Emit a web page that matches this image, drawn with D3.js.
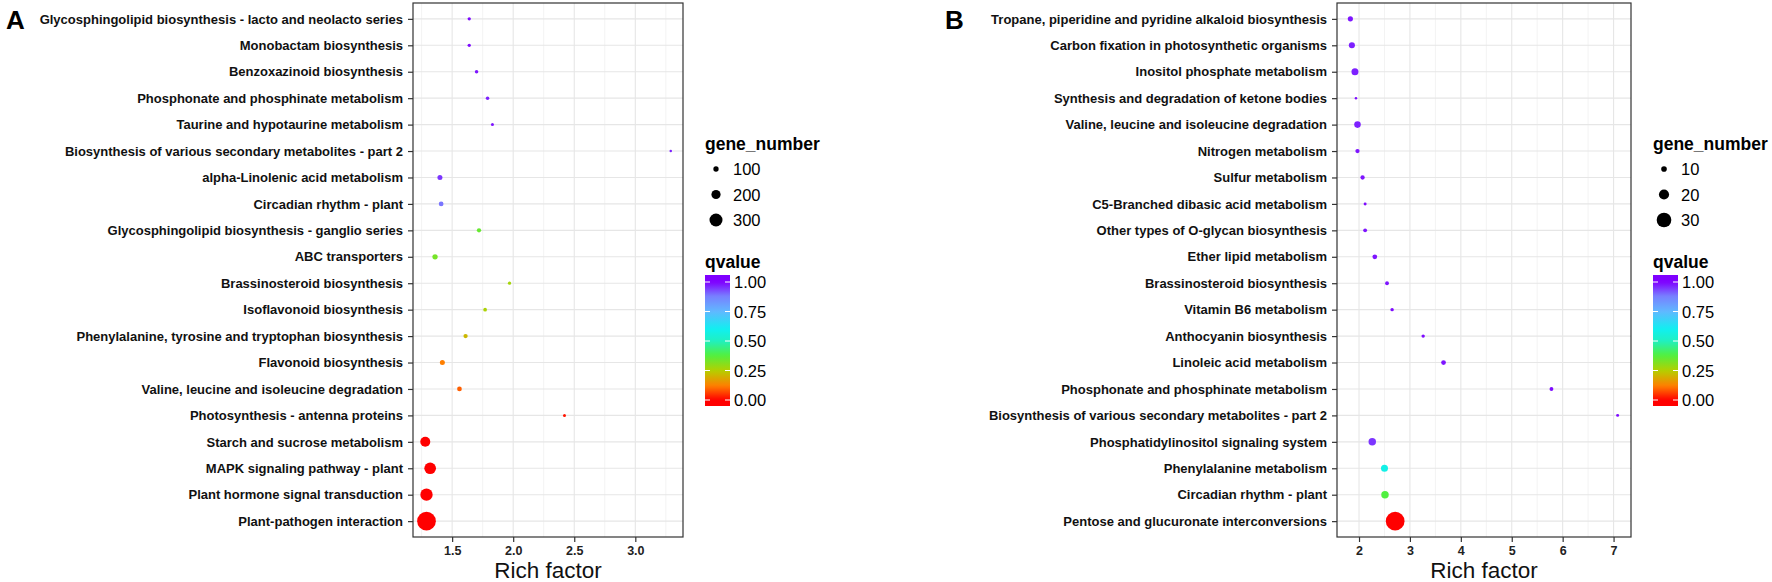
<!DOCTYPE html>
<html><head><meta charset="utf-8">
<script src="https://cdn.jsdelivr.net/npm/d3@7"></script>
<style>body{margin:0;background:#fff}svg{display:block;font-family:"Liberation Sans",Arial,sans-serif}</style>
</head><body><svg id="c" width="1772" height="582"></svg>
<script>
// ---------- Data: panel A ----------
const catsA = [
  "Glycosphingolipid biosynthesis - lacto and neolacto series","Monobactam biosynthesis","Benzoxazinoid biosynthesis",
  "Phosphonate and phosphinate metabolism","Taurine and hypotaurine metabolism","Biosynthesis of various secondary metabolites - part 2",
  "alpha-Linolenic acid metabolism","Circadian rhythm - plant","Glycosphingolipid biosynthesis - ganglio series","ABC transporters",
  "Brassinosteroid biosynthesis","Isoflavonoid biosynthesis","Phenylalanine, tyrosine and tryptophan biosynthesis","Flavonoid biosynthesis",
  "Valine, leucine and isoleucine degradation","Photosynthesis - antenna proteins","Starch and sucrose metabolism",
  "MAPK signaling pathway - plant","Plant hormone signal transduction","Plant-pathogen interaction"];
const richA = [1.64,1.64,1.70,1.79,1.83,3.29,1.40,1.41,1.72,1.36,1.97,1.77,1.61,1.42,1.56,2.42,1.28,1.32,1.29,1.29];
const geneA = [48,48,53,53,40,27,92,85,74,100,48,58,74,92,85,40,222,266,282,448];
const qA    = [0.99,0.99,0.98,0.97,0.98,0.97,0.95,0.89,0.35,0.33,0.27,0.26,0.21,0.12,0.09,0.02,0.00,0.00,0.00,0.00];
const sizeBreaksA = [100,200,300];

// ---------- Data: panel B ----------
const catsB = [
  "Tropane, piperidine and pyridine alkaloid biosynthesis","Carbon fixation in photosynthetic organisms","Inositol phosphate metabolism",
  "Synthesis and degradation of ketone bodies","Valine, leucine and isoleucine degradation","Nitrogen metabolism","Sulfur metabolism",
  "C5-Branched dibasic acid metabolism","Other types of O-glycan biosynthesis","Ether lipid metabolism","Brassinosteroid biosynthesis",
  "Vitamin B6 metabolism","Anthocyanin biosynthesis","Linoleic acid metabolism","Phosphonate and phosphinate metabolism",
  "Biosynthesis of various secondary metabolites - part 2","Phosphatidylinositol signaling system","Phenylalanine metabolism",
  "Circadian rhythm - plant","Pentose and glucuronate interconversions"];
const richB = [1.83,1.86,1.92,1.94,1.97,1.97,2.07,2.12,2.12,2.31,2.55,2.65,3.26,3.66,5.78,7.08,2.26,2.50,2.51,2.71];
const geneB = [9,11,13,3,12,7,7,4,6,8,6,5,5,8,6,4,14,13,14,39];
const qB    = [0.98,0.97,0.97,0.99,0.97,0.98,0.98,0.99,0.98,0.98,0.98,0.99,0.99,0.98,0.99,0.99,0.95,0.58,0.38,0.00];
const sizeBreaksB = [10,20,30];

const qTicks = [0,0.25,0.5,0.75,1];
const qStops = [0,0.12,0.25,0.38,0.5,0.6,0.75,0.88,1];
const qColours = ["#FF0000","#FF7F00","#B4D000","#50F040","#20F0C0","#10F0F0","#60B8FF","#7880FF","#7F00FF"];

// ---------- Drawing ----------
const svg = d3.select("#c");
const defs = svg.append("defs");
const colour = d3.scaleLinear().domain(qStops).range(qColours).interpolate(d3.interpolateRgb).clamp(true);
const FONT = "Liberation Sans, Arial, sans-serif";

function panel(cfg){
  const {cats, rich, gene, q, breaks, x0, x1, y0, y1, xTicks, tickFmt, letter, letterX} = cfg;
  const g = svg.append("g");
  const ext = d3.extent(rich), pad = (ext[1]-ext[0])*0.05;
  const x = d3.scaleLinear().domain([ext[0]-pad, ext[1]+pad]).range([x0, x1]);
  const y = d3.scalePoint().domain(cats).range([y0, y1]).padding(0.6);
  const r = d3.scaleLinear().domain(d3.extent(gene)).range([1.25, 9.35]);

  // grid
  const step = xTicks[1]-xTicks[0];
  const minor = d3.range(xTicks.length+1).map(i=>xTicks[0]-step/2+i*step).filter(v=>x(v)>x0&&x(v)<x1);
  g.selectAll(".mg").data(minor).join("line")
    .attr("x1",d=>x(d)).attr("x2",d=>x(d)).attr("y1",y0).attr("y2",y1).attr("stroke","#f3f3f3").attr("stroke-width",1);
  g.selectAll(".vg").data(xTicks).join("line")
    .attr("x1",d=>x(d)).attr("x2",d=>x(d)).attr("y1",y0).attr("y2",y1).attr("stroke","#e6e6e6").attr("stroke-width",1.1);
  g.selectAll(".hg").data(cats).join("line")
    .attr("x1",x0).attr("x2",x1).attr("y1",d=>y(d)).attr("y2",d=>y(d)).attr("stroke","#e6e6e6").attr("stroke-width",1.1);

  // points
  const data = cats.map((c,i)=>({c, x:rich[i], g:gene[i], q:q[i]}));
  g.selectAll(".pt").data(data).join("circle")
    .attr("cx",d=>x(d.x)).attr("cy",d=>y(d.c)).attr("r",d=>r(d.g)).attr("fill",d=>colour(d.q));

  // border
  g.append("rect").attr("x",x0).attr("y",y0).attr("width",x1-x0).attr("height",y1-y0)
    .attr("fill","none").attr("stroke","#333").attr("stroke-width",1.2);

  // axes
  const ax = g.append("g").attr("transform",`translate(0,${y1})`)
    .call(d3.axisBottom(x).tickValues(xTicks).tickFormat(tickFmt).tickSizeOuter(0).tickSize(5).tickPadding(4));
  ax.select(".domain").remove();
  ax.selectAll("line").attr("stroke","#333").attr("stroke-width",1.2);
  ax.selectAll("text").attr("font-size",12.5).attr("font-weight","bold").attr("fill","#222").attr("font-family",FONT);
  const ay = g.append("g").attr("transform",`translate(${x0},0)`)
    .call(d3.axisLeft(y).tickSizeOuter(0).tickSize(5).tickPadding(5));
  ay.select(".domain").remove();
  ay.selectAll("line").attr("stroke","#333").attr("stroke-width",1.2);
  ay.selectAll("text").attr("font-size",13).attr("font-weight","bold").attr("fill","#111").attr("font-family",FONT);

  g.append("text").attr("x",(x0+x1)/2).attr("y",578).attr("text-anchor","middle")
    .attr("font-size",22.5).attr("fill","#111").text("Rich factor");
  g.append("text").attr("x",letterX).attr("y",29).attr("font-size",26).attr("font-weight","bold").text(letter);

  // legend: size
  const lx = x1 + 22;
  g.append("text").attr("x",lx).attr("y",150).attr("font-size",17.5).attr("font-weight","bold").text("gene_number");
  breaks.forEach((b,i)=>{
    const cy = 169 + i*25.5;
    g.append("circle").attr("cx",lx+11).attr("cy",cy).attr("r",r(b)).attr("fill","#000");
    g.append("text").attr("x",lx+28).attr("y",cy+6).attr("font-size",16.5).text(b);
  });
  // legend: colour
  g.append("text").attr("x",lx).attr("y",268).attr("font-size",17.5).attr("font-weight","bold").text("qvalue");
  const barTop = 275, barBot = 406, barW = 25;
  const qy = d3.scaleLinear().domain([0,1]).range([400, 282]);
  const gid = "grad"+letter;
  const grad = defs.append("linearGradient").attr("id",gid).attr("gradientUnits","userSpaceOnUse")
    .attr("x1",0).attr("x2",0).attr("y1",barBot).attr("y2",barTop);
  d3.range(0,1.0001,0.02).forEach(t=>{
    const yy = barBot + t*(barTop-barBot);
    grad.append("stop").attr("offset",t).attr("stop-color",colour(qy.invert(yy)));
  });
  g.append("rect").attr("x",lx).attr("y",barTop).attr("width",barW).attr("height",barBot-barTop).attr("fill",`url(#${gid})`);
  qTicks.forEach(t=>{
    g.append("line").attr("x1",lx).attr("x2",lx+5).attr("y1",qy(t)).attr("y2",qy(t)).attr("stroke","#fff");
    g.append("line").attr("x1",lx+barW-5).attr("x2",lx+barW).attr("y1",qy(t)).attr("y2",qy(t)).attr("stroke","#fff");
    g.append("text").attr("x",lx+barW+4).attr("y",qy(t)+6).attr("font-size",16.5).text(d3.format(".2f")(t));
  });
}

panel({cats:catsA, rich:richA, gene:geneA, q:qA, breaks:sizeBreaksA, x0:413, x1:683, y0:3, y1:537,
  xTicks:[1.5,2.0,2.5,3.0], tickFmt:d3.format(".1f"), letter:"A", letterX:6});
panel({cats:catsB, rich:richB, gene:geneB, q:qB, breaks:sizeBreaksB, x0:1337, x1:1631, y0:3, y1:537,
  xTicks:[2,3,4,5,6,7], tickFmt:d3.format("d"), letter:"B", letterX:945});
</script></body></html>
